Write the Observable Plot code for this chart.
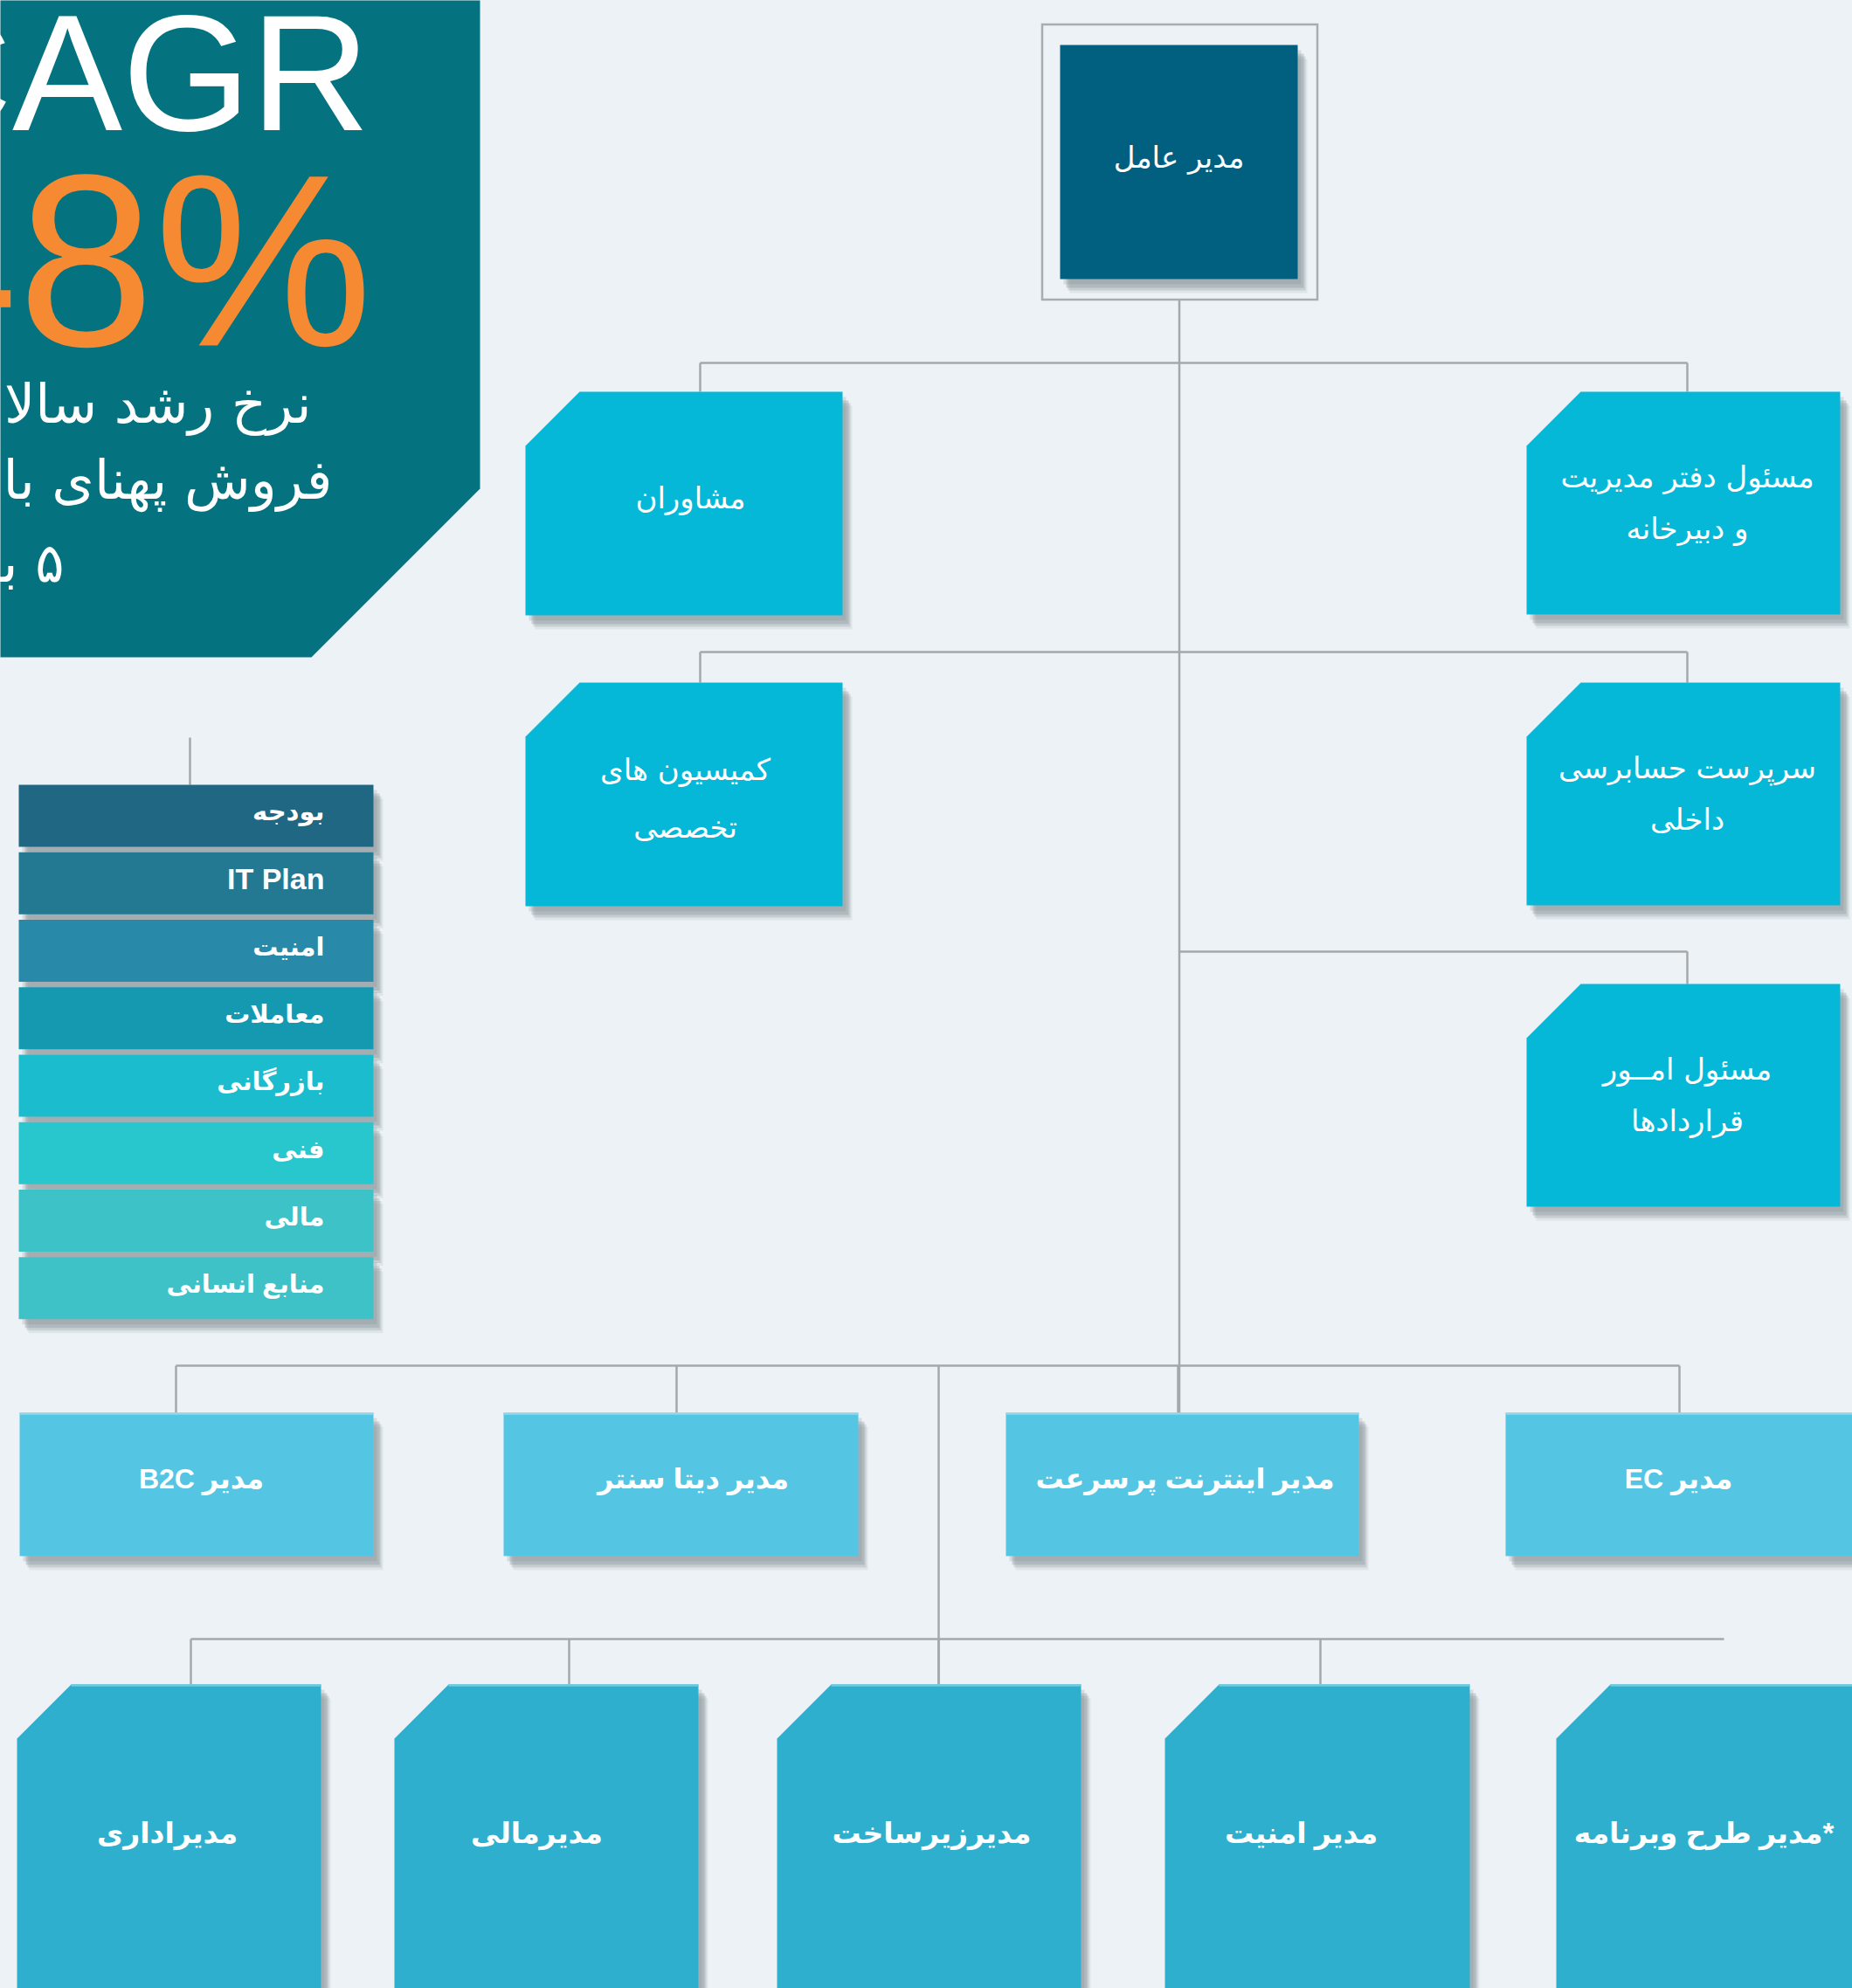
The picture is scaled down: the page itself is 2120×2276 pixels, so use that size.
<!DOCTYPE html>
<html><head><meta charset="utf-8">
<script src="https://cdn.jsdelivr.net/npm/d3@7"></script>
<script src="https://cdn.jsdelivr.net/npm/@observablehq/plot@0.6"></script>
<style>html,body{margin:0;padding:0;background:#edf2f6;overflow:hidden}#chart svg{display:block}</style>
</head><body><div id="chart"></div>
<script>
// ---------------- data (labels) ----------------
const headline = ["CAGR", "48%"];
const headlineLines = ["نرخ رشد سالانه مرکب", "فروش پهنای باند", "۵ برابر"];
const ceo = ["مدیر عامل"];
const advisors = ["مشاوران", "کمیسیون های\nتخصصی"];
const officers = ["مسئول دفتر مدیریت\nو دبیرخانه", "سرپرست حسابرسی\nداخلی", "مسئول امــور\nقراردادها"];
const committees = ["بودجه", "IT Plan", "امنیت", "معاملات", "بازرگانی", "فنی", "مالی", "منابع انسانی"];
const managers = ["مدیر B2C", "مدیر دیتا سنتر", "مدیر اینترنت پرسرعت", "مدیر EC"];
const directors = ["مدیراداری", "مدیرمالی", "مدیرزیرساخت", "مدیر امنیت", "*مدیر طرح وبرنامه"];

// ---------------- layout & style ----------------
const W = 2120, H = 2276;
const C = {bg:"#edf2f6", panel:"#05737f", orange:"#f68a33", ceo:"#015f80", staff:"#06b8d8",
           mgr:"#54c5e3", mgrTop:"#8fd8ec", dir:"#2eafcd", dirTop:"#6fcbe0", line:"#a4a8aa", shadow:"#7f898e", frame:"#a9adaf"};
const committeeFills = ["#1f6782","#237892","#288aa8","#1499b0","#1bbccd","#28c7cd","#3cc2c7","#3ec1c7"];
const CUT = 62;
const FA = "'Liberation Sans', 'DejaVu Sans', sans-serif";
const FP = "'DejaVu Sans', sans-serif";
const rtl = s => s.split("\n").map(l => "\u202B" + l + "\u202C").join("\n");

const L = {
  panel: {w:549, bevelY:559, bevelX:356, bottom:752},
  head: [{x:423, base:148, fs:189}, {x:426, base:395, fs:281}],
  headLines: {x:[356,380,73], base:[483,570,665], fs:62},
  ceo: {x1:1213, y1:51, x2:1485, y2:319, frame:[1193,28,1508,343], fs:34, ty:181},
  advisors: {x1:601, x2:964, ys:[448,781], h:256, drop:801, tx:[790,784], ty:[560,904], fs:34, lh:1.95},
  officers: {x1:1747, x2:2106, ys:[448,781,1126], h:255, drop:1931, tx:1931, dy:120, fs:34, lh:1.75},
  buses: [415, 746, 1089],
  committees: {x1:21, x2:427, y0:898, step:77.25, h:71, tx:371, drop:217, top:844, fs:29, fsLatin:34},
  managers: {x1s:[22,576,1151,1723], x2s:[427,982,1555,2150], y1:1617, y2:1781, drops:[201,774,1348,1922], bus:1563, tx:[230,793,1356,1921], ty:1693, fs:32},
  directors: {x1s:[19,451,889,1333,1781], x2s:[367,799,1237,1682,2150], y1:1928, y2:2320, drops:[218,651,1074,1511], busEnd:1973, bus:1876, tx:[191,614,1066,1489,1950], ty:2099, fs:33}
};
// soft shadow approximated with stacked offset layers
const SHADOW_LAYERS = [{dx:4, dy:6, op:0.22}, {dx:7, dy:10, op:0.3}, {dx:9, dy:13, op:0.24}, {dx:11, dy:16, op:0.13}];

// ---------------- build geometry from layout ----------------
function poly(id, x1, y1, x2, y2, cut) {
  const pts = cut ? [[x1,y1+cut],[x1+cut,y1],[x2,y1],[x2,y2],[x1,y2]] : [[x1,y1],[x2,y1],[x2,y2],[x1,y2]];
  return pts.map(([x,y]) => ({id, x, y}));
}
const boxes = [];
const P = L.panel;
const panelPts = [[0,0],[P.w,0],[P.w,P.bevelY],[P.bevelX,P.bottom],[0,P.bottom]].map(([x,y]) => ({id:"panel", x, y}));

boxes.push({id:"ceo", fill:C.ceo, x1:L.ceo.x1, y1:L.ceo.y1, x2:L.ceo.x2, y2:L.ceo.y2, cut:0});
advisors.forEach((t,i) => boxes.push({id:"adv"+i, fill:C.staff, x1:L.advisors.x1, x2:L.advisors.x2, y1:L.advisors.ys[i], y2:L.advisors.ys[i]+L.advisors.h, cut:CUT}));
officers.forEach((t,i) => boxes.push({id:"off"+i, fill:C.staff, x1:L.officers.x1, x2:L.officers.x2, y1:L.officers.ys[i], y2:L.officers.ys[i]+L.officers.h, cut:CUT}));
committees.forEach((t,i) => { const y1 = L.committees.y0 + i*L.committees.step; boxes.push({id:"com"+i, fill:committeeFills[i], x1:L.committees.x1, x2:L.committees.x2, y1, y2:y1+L.committees.h, cut:0}); });
managers.forEach((t,i) => boxes.push({id:"mgr"+i, fill:C.mgr, x1:L.managers.x1s[i], x2:L.managers.x2s[i], y1:L.managers.y1, y2:L.managers.y2, cut:0}));
directors.forEach((t,i) => boxes.push({id:"dir"+i, fill:C.dir, x1:L.directors.x1s[i], x2:L.directors.x2s[i], y1:L.directors.y1, y2:L.directors.y2, cut:CUT}));

const boxPts = boxes.flatMap(b => poly(b.id, b.x1, b.y1, b.x2, b.y2, b.cut).map(p => ({...p, fill:b.fill})));
const shadowLayers = SHADOW_LAYERS.map((s, k) => ({op:s.op, pts: boxes.flatMap(b => poly(b.id + "-s" + k, b.x1+s.dx, b.y1+s.dy, b.x2+s.dx, b.y2+s.dy, b.cut))}));
const topEdges = boxes.filter(b => /^mgr|^dir/.test(b.id)).map(b => ({x1:b.x1+b.cut, x2:b.x2, y:b.y1+1, c:b.id.startsWith("mgr") ? C.mgrTop : C.dirTop}));

// connectors
const ceoCx = (L.ceo.x1 + L.ceo.x2) / 2 + 0.5;
const links = [];
const seg = (x1,y1,x2,y2) => links.push({x1,y1,x2,y2});
seg(ceoCx, L.ceo.frame[3], ceoCx, L.managers.y1);
[0,1].forEach(r => { seg(L.advisors.drop, L.buses[r], L.officers.drop, L.buses[r]); seg(L.advisors.drop, L.buses[r], L.advisors.drop, L.advisors.ys[r]); seg(L.officers.drop, L.buses[r], L.officers.drop, L.officers.ys[r]); });
seg(ceoCx, L.buses[2], L.officers.drop, L.buses[2]); seg(L.officers.drop, L.buses[2], L.officers.drop, L.officers.ys[2]);
seg(L.committees.drop, L.committees.top, L.committees.drop, L.committees.y0);
const M = L.managers, D = L.directors;
seg(M.drops[0], M.bus, M.drops[M.drops.length-1], M.bus);
M.drops.forEach(x => seg(x, M.bus, x, M.y1));
seg(D.drops[2], M.bus, D.drops[2], D.y1);
seg(D.drops[0], D.bus, D.busEnd, D.bus);
D.drops.forEach(x => seg(x, D.bus, x, D.y1));

// texts
const headTexts = headline.map((t,i) => ({t, x:L.head[i].x, y:L.head[i].base - 0.32*L.head[i].fs}));
const headLineTexts = headlineLines.map((t,i) => ({t:rtl(t), x:L.headLines.x[i], y:L.headLines.base[i] - 0.32*L.headLines.fs}));
const ceoText = ceo.map(t => ({t:rtl(t), x:(L.ceo.x1+L.ceo.x2)/2, y:L.ceo.ty}));
const advTexts = advisors.map((t,i) => ({t:rtl(t), x:L.advisors.tx[i], y:L.advisors.ty[i]}));
const offTexts = officers.map((t,i) => ({t:rtl(t), x:L.officers.tx, y:L.officers.ys[i] + L.officers.dy}));
const comTexts = committees.map((t,i) => ({t:rtl(t), latin:/^[A-Za-z ]+$/.test(t), x:L.committees.tx, y:L.committees.y0 + i*L.committees.step + L.committees.h/2 - 4}));
const mgrTexts = managers.map((t,i) => ({t:rtl(t), x:M.tx[i], y:M.ty}));
const dirTexts = directors.map((t,i) => ({t:rtl(t), x:D.tx[i], y:D.ty}));

const fills = [...new Set(boxes.map(b => b.fill))];

const chart = Plot.plot({
  width: W, height: H, margin: 0,
  x: {domain:[0,W], range:[0,W], axis:null},
  y: {domain:[0,H], range:[0,H], axis:null},
  style: {background: C.bg, overflow: "hidden"},
  marks: [
    Plot.line(panelPts, {x:"x", y:"y", z:"id", fill:C.panel, stroke:"none", curve:"linear-closed"}),
    ...shadowLayers.map(s => Plot.line(s.pts, {x:"x", y:"y", z:"id", fill:C.shadow, fillOpacity:s.op, stroke:"none", curve:"linear-closed"})),
    Plot.link(links, {x1:"x1", y1:"y1", x2:"x2", y2:"y2", stroke:C.line, strokeWidth:2.5}),
    Plot.rect([L.ceo.frame], {x1:d=>d[0], y1:d=>d[1], x2:d=>d[2], y2:d=>d[3], fill:"none", stroke:C.frame, strokeWidth:2.5}),
    ...fills.map(f => Plot.line(boxPts.filter(p => p.fill === f), {x:"x", y:"y", z:"id", fill:f, stroke:"none", curve:"linear-closed"})),
    Plot.link(topEdges, {x1:"x1", x2:"x2", y1:"y", y2:"y", stroke:"c", strokeWidth:2.5}),
    Plot.text(headTexts.slice(0,1), {x:"x", y:"y", text:"t", fontSize:L.head[0].fs, fill:"white", textAnchor:"end", fontFamily:"'Liberation Sans', Arial, sans-serif"}),
    Plot.text(headTexts.slice(1), {x:"x", y:"y", text:"t", fontSize:L.head[1].fs, fill:C.orange, textAnchor:"end", fontFamily:"'Liberation Sans', Arial, sans-serif"}),
    Plot.text(headLineTexts, {x:"x", y:"y", text:"t", fontSize:L.headLines.fs, fill:"white", textAnchor:"end", fontFamily:FP}),
    Plot.text(ceoText, {x:"x", y:"y", text:"t", fontSize:L.ceo.fs, fill:"white", fontFamily:FP}),
    Plot.text(advTexts, {x:"x", y:"y", text:"t", fontSize:L.advisors.fs, lineHeight:L.advisors.lh, fill:"white", fontFamily:FP}),
    Plot.text(offTexts, {x:"x", y:"y", text:"t", fontSize:L.officers.fs, lineHeight:L.officers.lh, fill:"white", fontFamily:FP}),
    Plot.text(comTexts, {x:"x", y:"y", text:"t", fontSize:d => d.latin ? L.committees.fsLatin : L.committees.fs, fill:"white", textAnchor:"end", fontFamily:FA, fontWeight:"bold"}),
    Plot.text(mgrTexts, {x:"x", y:"y", text:"t", fontSize:M.fs, fill:"white", fontFamily:FA, fontWeight:"bold"}),
    Plot.text(dirTexts, {x:"x", y:"y", text:"t", fontSize:D.fs, fill:"white", fontFamily:FA, fontWeight:"bold"})
  ]
});

document.getElementById("chart").appendChild(chart);
</script>
</body></html>
